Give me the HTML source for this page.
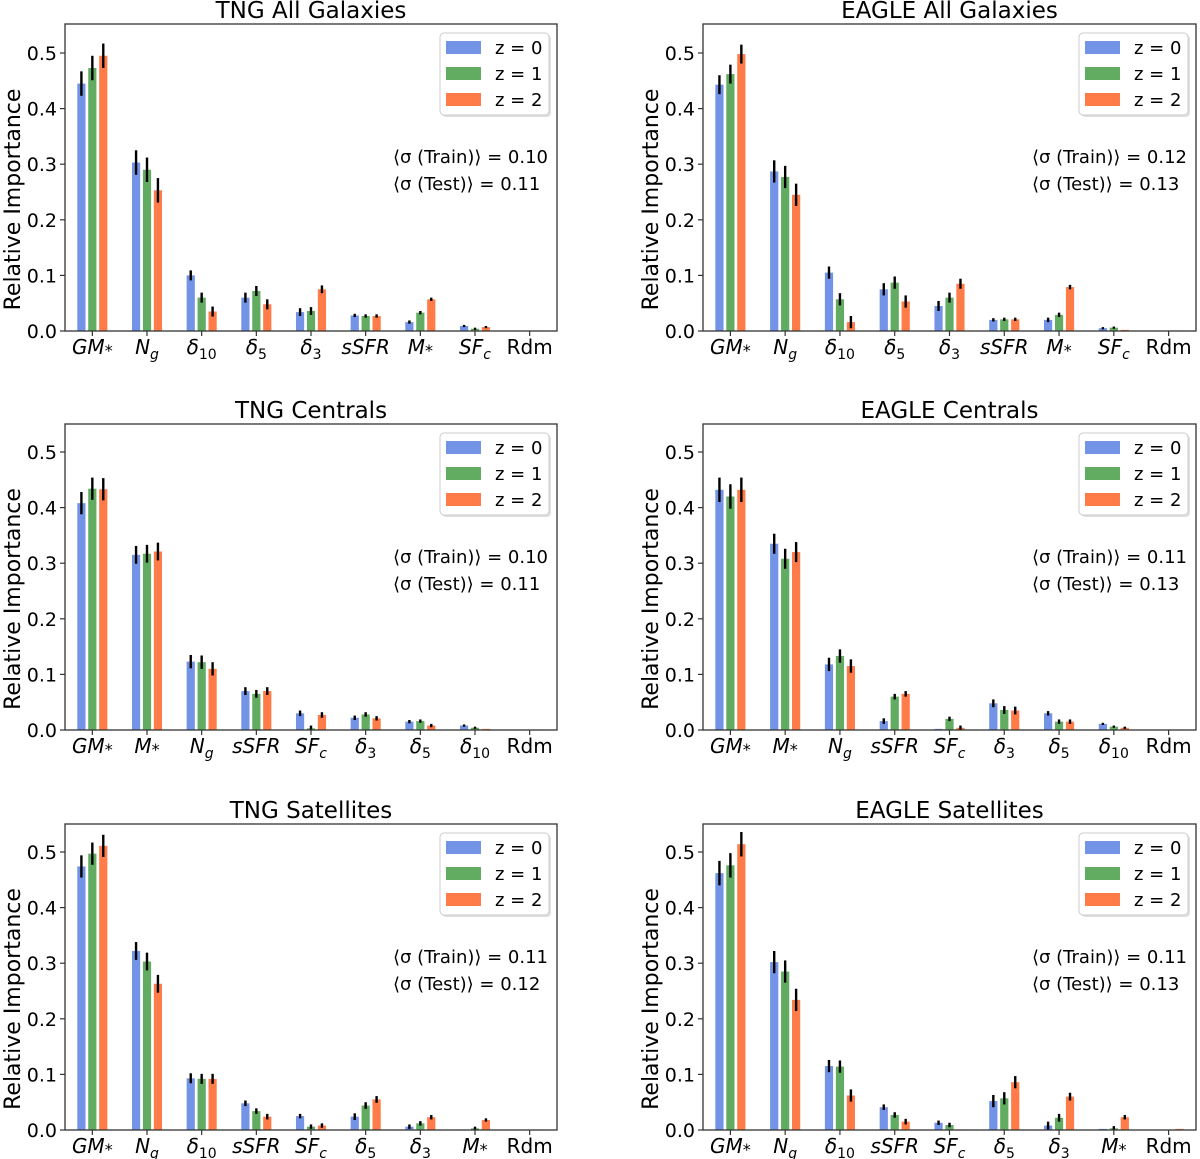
<!DOCTYPE html>
<html><head><meta charset="utf-8"><style>
body{margin:0;background:#fff;}
svg{display:block;font-family:"DejaVu Sans","Liberation Sans",sans-serif;}
</style></head><body>
<svg id="fig" width="1200" height="1159" viewBox="0 0 1200 1159"></svg>
<script>
// ---- data ----
const panelTitles = ["TNG All Galaxies","EAGLE All Galaxies","TNG Centrals","EAGLE Centrals","TNG Satellites","EAGLE Satellites"];
const catsTngAll = ["GM*","Ng","d10","d5","d3","sSFR","M*","SFc","Rdm"];
const catsEagleAll = ["GM*","Ng","d10","d5","d3","sSFR","M*","SFc","Rdm"];
const catsTngCen = ["GM*","M*","Ng","sSFR","SFc","d3","d5","d10","Rdm"];
const catsEagleCen = ["GM*","M*","Ng","sSFR","SFc","d3","d5","d10","Rdm"];
const catsTngSat = ["GM*","Ng","d10","sSFR","SFc","d5","d3","M*","Rdm"];
const catsEagleSat = ["GM*","Ng","d10","sSFR","SFc","d5","d3","M*","Rdm"];

const tngAllZ0 = [0.445,0.303,0.100,0.060,0.034,0.028,0.016,0.009,0.000];
const tngAllZ1 = [0.473,0.290,0.060,0.072,0.036,0.027,0.033,0.004,0.000];
const tngAllZ2 = [0.495,0.253,0.035,0.048,0.075,0.027,0.057,0.007,0.001];
const eagleAllZ0 = [0.443,0.287,0.105,0.075,0.045,0.020,0.020,0.005,0.000];
const eagleAllZ1 = [0.462,0.277,0.057,0.087,0.060,0.021,0.029,0.006,0.000];
const eagleAllZ2 = [0.498,0.245,0.016,0.053,0.085,0.021,0.079,0.002,0.001];
const tngCenZ0 = [0.408,0.315,0.123,0.070,0.030,0.022,0.015,0.008,0.000];
const tngCenZ1 = [0.434,0.317,0.122,0.065,0.003,0.028,0.016,0.004,0.000];
const tngCenZ2 = [0.433,0.321,0.110,0.070,0.027,0.021,0.008,0.002,0.001];
const eagleCenZ0 = [0.432,0.335,0.118,0.016,0.002,0.048,0.030,0.011,0.000];
const eagleCenZ1 = [0.420,0.308,0.133,0.060,0.020,0.036,0.015,0.006,0.000];
const eagleCenZ2 = [0.432,0.320,0.115,0.065,0.004,0.035,0.015,0.004,0.001];
const tngSatZ0 = [0.474,0.322,0.093,0.048,0.025,0.024,0.006,0.001,0.000];
const tngSatZ1 = [0.497,0.303,0.092,0.034,0.006,0.044,0.012,0.003,0.000];
const tngSatZ2 = [0.511,0.263,0.092,0.024,0.008,0.055,0.023,0.018,0.001];
const eagleSatZ0 = [0.462,0.302,0.115,0.041,0.013,0.052,0.008,0.002,0.000];
const eagleSatZ1 = [0.476,0.285,0.114,0.027,0.009,0.057,0.022,0.003,0.000];
const eagleSatZ2 = [0.514,0.234,0.062,0.015,0.001,0.086,0.060,0.023,0.002];

const tngAllErr = [0.022,0.022,0.009,0.009,0.007,0.003,0.003,0.002,0.001];
const eagleAllErr = [0.017,0.020,0.011,0.011,0.009,0.003,0.004,0.002,0.001];
const tngCenErr = [0.020,0.016,0.012,0.007,0.005,0.004,0.003,0.002,0.001];
const eagleCenErr = [0.022,0.018,0.012,0.005,0.004,0.007,0.004,0.002,0.001];
const tngSatErr = [0.020,0.016,0.009,0.005,0.004,0.006,0.004,0.003,0.001];
const eagleSatErr = [0.022,0.020,0.011,0.005,0.004,0.011,0.007,0.004,0.001];

const trainSigma = ["0.10","0.12","0.10","0.11","0.11","0.11"];
const testSigma = ["0.11","0.13","0.11","0.13","0.12","0.13"];
const yTicks = [0.0,0.1,0.2,0.3,0.4,0.5];
const legendLabels = ["z = 0","z = 1","z = 2"];

const panels = [
 {cats:catsTngAll,s:[tngAllZ0,tngAllZ1,tngAllZ2],e:tngAllErr},
 {cats:catsEagleAll,s:[eagleAllZ0,eagleAllZ1,eagleAllZ2],e:eagleAllErr},
 {cats:catsTngCen,s:[tngCenZ0,tngCenZ1,tngCenZ2],e:tngCenErr},
 {cats:catsEagleCen,s:[eagleCenZ0,eagleCenZ1,eagleCenZ2],e:eagleCenErr},
 {cats:catsTngSat,s:[tngSatZ0,tngSatZ1,tngSatZ2],e:tngSatErr},
 {cats:catsEagleSat,s:[eagleSatZ0,eagleSatZ1,eagleSatZ2],e:eagleSatErr}
];
const colors = ["#7393e6","#62ac62","#ff7b47"];
const NS = "http://www.w3.org/2000/svg";
const svg = document.getElementById('fig');
function mk(tag, attrs, parent){const el=document.createElementNS(NS,tag);for(const k in attrs)el.setAttribute(k,attrs[k]);(parent||svg).appendChild(el);return el;}

function catLabel(t, c){
  const map={"GM*":[["GM","i"],["*",""]],"M*":[["M","i"],["*",""]],"Ng":[["N","i"],["g","isub"]],
   "d10":[["δ","i"],["10","sub"]],"d5":[["δ","i"],["5","sub"]],"d3":[["δ","i"],["3","sub"]],
   "sSFR":[["sSFR","i"]],"SFc":[["SF","i"],["c","isub"]],"Rdm":[["Rdm",""]]};
  map[c].forEach(p=>{const ts=mk('tspan',{},t);ts.textContent=p[0];
    if(p[1].includes('i'))ts.setAttribute('font-style','italic');
    if(p[1].includes('sub')){ts.setAttribute('font-size','14');ts.setAttribute('dy','5');}
    if(p[0]==='*'){ts.setAttribute('font-size','16');ts.setAttribute('dy','2');}
  });
}

panels.forEach((p,pi)=>{
  const col=pi%2,row=Math.floor(pi/2);
  const L=col?703:65,R=col?1196:557,T=[24,424,824][row],B=[331,730,1130][row];
  const ymax=(B-T)/556;
  const g=mk('g',{});
  
  
  const y=v=>B-(v/ymax)*(B-T);
  const step=(R-L)/p.cats.length;
  const x=i=>L+step*(i+0.5);
  const title=mk('text',{x:(L+R)/2,y:T-6,'text-anchor':'middle','font-size':'23'},g);
  title.textContent=panelTitles[pi];
  
  
  p.s.forEach((ser,si)=>{
    ser.forEach((v,ci)=>{
      const cx=x(ci)+(si-1)*step*0.2;
      const w=step*0.15;
      const r=mk('rect',{x:cx-w/2,y:y(v),width:w,height:Math.max(0,B-y(v)),fill:colors[si]},g);
      
      
      const err=p.e[ci]*(v>0.002?1:0);
      if(err>0){const l=mk('line',{x1:cx,x2:cx,y1:y(v+err),y2:y(Math.max(0,v-err)),stroke:'#000','stroke-width':2.4},g);
        
        }
    });
  });
  const fr=mk('rect',{x:L,y:T,width:R-L,height:B-T,fill:'none',stroke:'#333','stroke-width':1.3},g);
  
  
  yTicks.forEach(t=>{
    mk('line',{x1:L-5,x2:L,y1:y(t),y2:y(t),stroke:'#333','stroke-width':1.2},g);
    const tl=mk('text',{x:L-8,y:y(t)+7,'text-anchor':'end','font-size':'19'},g);
    tl.textContent=t.toFixed(1);
    
    
  });
  p.cats.forEach((c,ci)=>{
    mk('line',{x1:x(ci),x2:x(ci),y1:B,y2:B+5,stroke:'#333','stroke-width':1.2},g);
    const t=mk('text',{x:x(ci),y:B+23,'text-anchor':'middle','font-size':'20'},g);
    catLabel(t,c);
    
    
  });
  const yl=mk('text',{x:0,y:0,transform:`translate(${L-45},${(T+B)/2+22}) rotate(-90)`,'text-anchor':'middle','font-size':'22'},g);
  yl.textContent='Relative Importance';
  
  
  const lg=mk('g',{},g);
  
  
  mk('rect',{x:R-115,y:T+11,width:109,height:82,rx:4,fill:'#000',opacity:0.12},lg);
  mk('rect',{x:R-117,y:T+9,width:109,height:82,rx:4,fill:'#fff',stroke:'#ccc'},lg);
  legendLabels.forEach((lab,i)=>{
    mk('rect',{x:R-111,y:T+17+i*26,width:35,height:13,fill:colors[i]},lg);
    const t=mk('text',{x:R-62,y:T+30+i*26,'font-size':'18'},lg);
    t.textContent=lab;
    
    
  });
  const s1=mk('text',{x:R-164,y:T+139,'font-size':'18'},g);
  s1.textContent='⟨σ (Train)⟩ = '+trainSigma[pi];
  
  
  const s2=mk('text',{x:R-164,y:T+166,'font-size':'18'},g);
  s2.textContent='⟨σ (Test)⟩ = '+testSigma[pi];
  
  
});
</script>
</body></html>
